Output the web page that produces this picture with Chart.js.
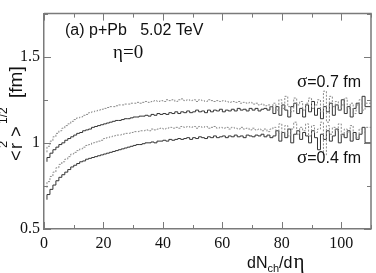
<!DOCTYPE html>
<html><head><meta charset="utf-8">
<script src="https://cdn.jsdelivr.net/npm/chart.js@4/dist/chart.umd.min.js"></script>
<style>html,body{margin:0;padding:0;background:#fff}canvas{display:block}</style>
</head><body>
<canvas id="c" width="376" height="273"></canvas>
<script>
// bins of width 1 in dNch/deta, left edges start at 1
const binStart = 1;
const binEnd = 110;
const xTicks = [0, 20, 40, 60, 80, 100];
const yTicks = [0.5, 1, 1.5];
// sigma = 0.7 fm, dotted (upper)
const s07dotted = [0.945,0.98,1.01,1.035,1.055,1.07,1.085,1.10,1.11,1.125,1.135,1.145,1.15,1.16,1.165,1.175,1.18,1.185,1.19,1.195,1.20,1.205,1.21,1.21,1.215,1.22,1.22,1.225,1.225,1.23,1.23,1.235,1.23,1.235,1.24,1.235,1.24,1.245,1.24,1.245,1.24,1.25,1.245,1.25,1.24,1.25,1.255,1.245,1.25,1.245,1.25,1.24,1.25,1.245,1.24,1.25,1.245,1.24,1.245,1.24,1.245,1.24,1.235,1.24,1.235,1.24,1.23,1.235,1.23,1.235,1.225,1.23,1.22,1.225,1.215,1.22,1.21,
 1.23,1.19,1.25,1.20,1.27,1.21,1.18,1.26,1.22,1.24,1.19,1.23,1.26,1.20,1.22,1.25,1.18,1.30,1.12,1.27,1.21,1.24,1.19,1.22,1.26,1.20,1.23,1.17,1.22,1.25,1.19,1.23];
// sigma = 0.7 fm, solid
const s07solid = [0.89,0.915,0.94,0.96,0.975,0.99,1.0,1.015,1.025,1.035,1.045,1.055,1.06,1.07,1.075,1.08,1.09,1.095,1.10,1.105,1.11,1.115,1.12,1.125,1.13,1.13,1.135,1.14,1.14,1.145,1.15,1.15,1.155,1.155,1.16,1.155,1.165,1.16,1.17,1.165,1.17,1.165,1.175,1.17,1.18,1.17,1.18,1.175,1.185,1.175,1.18,1.19,1.18,1.185,1.175,1.19,1.18,1.19,1.185,1.195,1.18,1.19,1.185,1.195,1.185,1.2,1.19,1.195,1.185,1.2,1.19,1.2,1.185,1.195,1.2,1.19,1.21,
 1.17,1.21,1.16,1.22,1.19,1.15,1.21,1.23,1.17,1.20,1.15,1.22,1.18,1.24,1.16,1.20,1.14,1.21,1.18,1.23,1.16,1.22,1.19,1.25,1.17,1.21,1.15,1.20,1.23,1.17,1.27,1.21];
// sigma = 0.4 fm, dotted
const s04dotted = [0.74,0.775,0.805,0.83,0.855,0.875,0.89,0.905,0.92,0.935,0.945,0.955,0.965,0.975,0.985,0.99,1.0,1.005,1.01,1.015,1.025,1.03,1.035,1.04,1.045,1.045,1.05,1.055,1.055,1.06,1.065,1.065,1.07,1.07,1.075,1.07,1.08,1.075,1.08,1.085,1.08,1.085,1.09,1.085,1.09,1.085,1.095,1.09,1.095,1.09,1.095,1.085,1.095,1.09,1.095,1.085,1.09,1.095,1.085,1.09,1.085,1.09,1.08,1.09,1.085,1.08,1.09,1.08,1.085,1.075,1.085,1.075,1.08,1.07,1.08,1.065,1.08,
 1.09,1.05,1.11,1.06,1.10,1.04,1.08,1.12,1.05,1.09,1.07,1.11,1.04,1.10,1.06,1.08,1.12,0.93,1.10,1.05,1.09,1.07,1.11,1.04,1.08,1.06,1.10,1.05,1.03,1.08,1.06,1.09];
// sigma = 0.4 fm, solid
const s04solid = [0.67,0.70,0.73,0.755,0.78,0.80,0.815,0.83,0.845,0.86,0.87,0.88,0.89,0.895,0.905,0.91,0.915,0.92,0.925,0.93,0.935,0.94,0.945,0.95,0.955,0.96,0.965,0.97,0.975,0.98,0.985,0.99,0.99,0.995,1.0,1.0,1.005,1.0,1.01,1.01,1.015,1.01,1.02,1.015,1.02,1.025,1.02,1.025,1.03,1.02,1.03,1.025,1.035,1.03,1.025,1.035,1.03,1.04,1.03,1.035,1.04,1.03,1.04,1.035,1.045,1.035,1.04,1.03,1.045,1.04,1.035,1.045,1.04,1.05,1.035,1.045,1.03,
 1.04,1.07,1.01,1.06,1.03,1.08,1.00,1.05,1.07,1.02,1.06,1.04,1.00,1.07,1.03,0.96,1.05,1.02,1.07,1.01,1.04,1.08,1.00,1.05,1.03,1.07,1.01,1.06,1.02,1.05,1.09,1.00];

function toSteps(vals){
  const pts = vals.map((v,i)=>({x: binStart + i, y: v}));
  pts.push({x: binEnd, y: vals[vals.length-1]});
  return pts;
}
const solidColor = '#333333', dotColor = '#8a8a8a', frameColor = '#7a7a7a';
function ds(vals, dotted){
  return {data: toSteps(vals), stepped: 'after', borderColor: dotted ? dotColor : solidColor,
    borderWidth: 1, borderDash: dotted ? [2,1.5] : [], pointRadius: 0, fill: false, tension: 0};
}

const decor = {
  id: 'decor',
  afterDraw(chart){
    const ctx = chart.ctx, a = chart.chartArea, xs = chart.scales.x, ys = chart.scales.y;
    ctx.save();
    ctx.strokeStyle = frameColor; ctx.lineWidth = 1.5;
    ctx.beginPath();
    ctx.moveTo(a.left, a.top); ctx.lineTo(a.right, a.top); ctx.lineTo(a.right, a.bottom);
    ctx.stroke();
    ctx.lineWidth = 1;
    ctx.beginPath();
    for (let v = 0; v <= 110; v += 10){
      const px = Math.round(xs.getPixelForValue(v)) + 0.5;
      const L = (v % 20 === 0) ? 7 : 4;
      ctx.moveTo(px, a.bottom); ctx.lineTo(px, a.bottom - L);
      ctx.moveTo(px, a.top); ctx.lineTo(px, a.top + L);
    }
    for (let v = 0.5; v <= 1.75001; v += 0.25){
      const py = Math.round(ys.getPixelForValue(v)) + 0.5;
      const L = (Math.abs(v*2 - Math.round(v*2)) < 1e-6) ? 7 : 4;
      ctx.moveTo(a.left, py); ctx.lineTo(a.left + L, py);
      ctx.moveTo(a.right, py); ctx.lineTo(a.right - L, py);
    }
    ctx.stroke();

    ctx.fillStyle = '#111';
    ctx.textBaseline = 'alphabetic'; ctx.textAlign = 'left';
    const sans = s => s + 'px "Liberation Sans", Arial, sans-serif';
    const serif = s => s + 'px "Liberation Serif", "Times New Roman", serif';
    ctx.font = sans(16);
    ctx.fillText('(a) p+Pb   5.02 TeV', 65, 35);
    ctx.font = serif(19);
    ctx.fillText('\u03b7=0', 113, 58);
    function sigma(label, x, y){
      ctx.font = serif(19);
      ctx.fillText('\u03c3', x, y);
      const w = ctx.measureText('\u03c3').width;
      ctx.font = sans(16);
      ctx.fillText(label, x + w, y);
    }
    sigma('=0.7 fm', 297, 87);
    sigma('=0.4 fm', 297, 163);

    // x title
    let x = 247, y = 268;
    ctx.font = sans(16); ctx.fillText('dN', x, y); x += ctx.measureText('dN').width;
    ctx.font = sans(11); ctx.fillText('ch', x, y + 4); x += ctx.measureText('ch').width;
    ctx.font = sans(16); ctx.fillText('/d', x, y); x += ctx.measureText('/d').width + 1;
    ctx.font = serif(21); ctx.fillText('\u03b7', x, y);

    // y title (rotated); each piece placed by the canvas y of its lower end
    ctx.save();
    ctx.translate(22, 0); ctx.rotate(-Math.PI/2);
    const piece = (t, bottomY, size, raise) => { ctx.font = sans(size); ctx.fillText(t, -bottomY, -raise); };
    piece('<', 161, 18, 0);
    piece('r', 149, 18, 0);
    piece('2', 148, 13, 15);
    piece('>', 137, 18, 0);
    piece('1/2', 124, 12, 15);
    piece('[fm]', 98, 19, 0);
    ctx.restore();
    ctx.restore();
  }
};

new Chart(document.getElementById('c'), {
  type: 'line',
  data: { datasets: [ds(s07dotted, true), ds(s07solid, false), ds(s04dotted, true), ds(s04solid, false)] },
  options: {
    responsive: false, animation: false, devicePixelRatio: 1,
    layout: { padding: { top: 1, right: 2, left: 0, bottom: 0 } },
    plugins: { legend: { display: false }, tooltip: { enabled: false } },
    scales: {
      x: { type: 'linear', min: 0, max: 110,
        afterFit: s => { s.height = 44; },
        afterBuildTicks: s => { s.ticks = [0,10,20,30,40,50,60,70,80,90,100,110].map(v=>({value:v})); },
        ticks: { autoSkip: false, maxRotation: 0, padding: 5, color: '#111',
          font: { family: '"Liberation Serif", serif', size: 16 },
          callback: v => xTicks.includes(v) ? String(v) : '' },
        grid: { display: false, drawTicks: false, tickLength: 0 }, border: { display: true, color: frameColor, width: 1.5 } },
      y: { type: 'linear', min: 0.5, max: 1.75,
        afterFit: s => { s.width = 44; },
        afterBuildTicks: s => { s.ticks = [0.5,0.75,1,1.25,1.5,1.75].map(v=>({value:v})); },
        ticks: { autoSkip: false, padding: 4, color: '#111',
          font: { family: '"Liberation Serif", serif', size: 16 },
          callback: v => yTicks.includes(v) ? String(v) : '' },
        grid: { display: false, drawTicks: false, tickLength: 0 }, border: { display: true, color: frameColor, width: 1.5 } }
    }
  },
  plugins: [decor]
});
</script>
</body></html>
